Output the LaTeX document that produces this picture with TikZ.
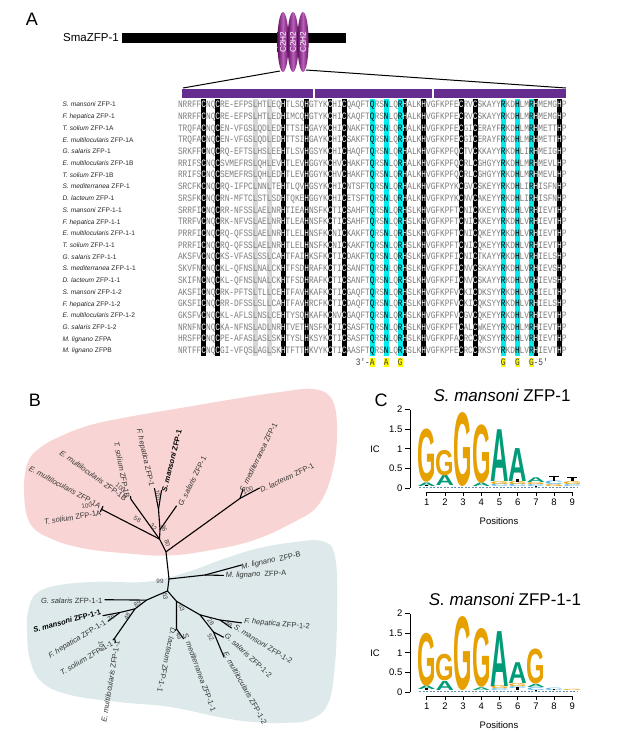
\documentclass[tikz,border=0pt]{standalone}
\usepackage{fontspec}
\setmainfont{Liberation Sans}
\newfontfamily\seqfont{Liberation Mono}
\usepackage{graphicx}
\usepackage{xstring}
\definecolor{zpurple}{RGB}{102,45,145}
\definecolor{zpdark}{RGB}{95,15,95}
\definecolor{zpmid}{RGB}{185,95,185}
\definecolor{seqgrey}{RGB}{125,125,125}
\definecolor{cg}{RGB}{125,125,125}
\definecolor{cw}{RGB}{255,255,255}
\definecolor{ck}{RGB}{0,0,0}
\definecolor{colgrey}{RGB}{215,215,215}
\definecolor{colcyan}{RGB}{0,235,235}
\definecolor{pinkblob}{RGB}{249,212,212}
\definecolor{blueblob}{RGB}{221,233,235}
\definecolor{logoorange}{RGB}{230,160,0}
\definecolor{logoteal}{RGB}{0,155,120}
\definecolor{logoblue}{RGB}{90,180,230}
\definecolor{dashblue}{RGB}{100,140,170}
\definecolor{yhl}{RGB}{255,250,0}
\tikzset{
 seqtxt/.style={anchor=base west, inner sep=0pt, outer sep=0pt, yscale=1.25, font=\seqfont\fontsize{7.8}{8}\selectfont},
 nametxt/.style={anchor=base west, inner sep=0pt, font=\fontsize{6.6}{7}\selectfont, text=black!85},
 treelab/.style={inner sep=0pt, font=\fontsize{7.5}{8}\selectfont, text=black!80},
 bootlab/.style={inner sep=0pt, font=\fontsize{6.3}{7}\selectfont, text=black!75},
 branch/.style={line width=1.1pt, line cap=round, line join=round},
 panellab/.style={inner sep=0pt, font=\fontsize{18}{20}\selectfont},
 axtxt/.style={inner sep=0pt, font=\fontsize{9.5}{11}\selectfont},
 titletxt/.style={inner sep=0pt, font=\fontsize{17}{19}\selectfont},
}
\newcommand\spl[2]{{\itshape #1} #2}
\newcommand\splb[2]{\textbf{\textit{#1} #2}}
\def\cw{4.6808}
\def\sx{178}
\def\ry{104.5}
\def\rs{11.714}
\def\seqrows{0/NRRFFCNQCRE-EFPSLHTLEQHTLSQHGTYKCHICQAQFTQRSNLQRHALKHVGFKPFECRVCSKAYYRKDHLMRHMEMGHP,
1/NRRFFCNQCRE-EFPSLHTLEDHIMCQHGTYKCHICKAQFTQRSNLQRHALKHVGFKPFECRVCSKAYYRKDHLMRHMEMGHP,
2/TRQFACNQCEN-VFGSLQDLEDHTTSIHGAYKCHICNAKFTQRSNLQRHALKHVGFKPFECGICERAYFRKDHLMRHMETTHP,
3/TRQFACNQCEN-VFGSLQDLEDHTTSIHGAYKCHICSAKFTQRSNLQRHALKHVGFKPFECGICERAYFRKDHLMRHMETTHP,
4/SRKFFCNQCRQ-EFTSLHSLEEHTLSVHGSYKCHICHAQFTQRSNLQRHALKHVGFKPFQCTVCKKAYYRKDHLIRHMEIGHP,
5/RRIFSCNQCSVMEFRSLQHLEVHTLEVHGGYKCHVCHAKFTQRSNLQRHALKHVGFKPFQCRLCGHGYYRKDHLMRHMEVLHP,
6/RRIFSCNQCSEMEFRSLQHLEDHTLEVHGGYKCHVCHAKFTQRSNLQRHALKHVGFKPFQCRLCGHGYYRKDHLMRHMEVLHP,
7/SRCFKCNQCRQ-IFPCLNNLTEHTLQVHGSYKCHICNTSFTQRSNLQRHALKHVGFKPYKCGVCSKEYYRKDHLIRHISFNHP,
8/SRSFKCNQCRN-MFTCLSTLSDHTQKEHGGYKCHICETSFTQRSNLQRHALKHVGFKPYKCNVCAKEYYRKDHLIRHISFNHP,
9/SRRFICNQCRR-NFSSLAELNRHTIEAHNSFKCTICSAHFTQRSNLQRHSLKHVGFKPFTCNICKKEYYRKDHLVRHIEVTHP,
10/TRRFVCNQCRK-NFVSLAELNRHTLEAHNSFKCTICSAHFTQRSNLQRHSLKHVGFKPFTCNICKKEYYRKDHLVRHIEVTHP,
11/PRRFICNQCRQ-QFSSLAELNRHTLELHNSFKCNICKAKFTQRSNLQRHSLKHVGFKPFTCNICQKEYYRKDHLVRHIEVTHP,
12/PRRFICNQCRQ-QFSSLAELNRHTLELHNSFKCNICKAKFTQRSNLQRHSLKHVGFKPFTCNICQKEYYRKDHLVRHIEVTHP,
13/AKSFVCNQCKS-VFASLSSLCAHTFAIHKSFKCTICDAKFTQRSNLQRHSLKHVGFKPFICNICTKAYYRKDHLVRHIELSHP,
14/SKVFNCNQCKL-QFNSLNALCKHTFSDHRAFKCTICSANFTQRSNLQRHSLKHVGFKPFICNVCSKAYYRKDHLVRHIEVSHP,
15/SKIFNCNQCKL-QFNSLNALCKHTFSDHRAFKCTICSANFTQRSNLQRHSLKHVGFKPFICNVCSKAYYRKDHLVRHIEVSHP,
16/AKSFICNQCRK-PFTSLTLLCEHTFAVHKAFKCTICGAQFTQRSNLQRHSLKHVGFKPFVCKICDKSYYRKDHLVRHIELTHP,
17/GKSFICNQCRR-DFSSLSLLCAHTFAVHRCFKCTICDAQFTQRSNLQRHSLKHVGFKPFVCKICQKSYYRKDHLVRHIELSHP,
18/GKSFVCNQCKL-AFLSLNSLCEHTYSQHKAFKCNVCGAQFTQRSNLQRHSLKHVGFKPFVCGVCQKEYYRKDHLVRHIEVTHP,
19/NRNFNCNQCKA-NFNSLADLNRHTVETHNSFKCTICSASFTQRSNLQRHSLKHVGFKPFTCALCWKEYYRKDHLMRHIEVTHP,
20/HRSFPCNQCPE-AFASLASLSKHTYSLHKSYKCTICSASFTQRSNLQRHSLKHVGFKPFACRCCQKSYYRKDHLVRHIEVTHP,
21/NRTFFCNQCGI-VFQSLAGLSKHTFTTHKVYKCTICAASFTQRSNLQRHSLKHVGFKPFECRCCRKSYYRKDHLVRHIEVTHP}
\def\namerows{0/S. mansoni/ZFP-1, 1/F. hepatica/ZFP-1, 2/T. solium/ZFP-1A, 3/E. multilocularis/ZFP-1A,
4/G. salaris/ZFP-1, 5/E. multilocularis/ZFP-1B, 6/T. solium/ZFP-1B, 7/S. mediterranea/ZFP-1,
8/D. lacteum/ZFP-1, 9/S. mansoni/ZFP-1-1, 10/F. hepatica/ZFP-1-1, 11/E. multilocularis/ZFP-1-1,
12/T. solium/ZFP-1-1, 13/G. salaris/ZFP-1-1, 14/S. mediterranea/ZFP-1-1, 15/D. lacteum/ZFP-1-1,
16/S. mansoni/ZFP-1-2, 17/F. hepatica/ZFP-1-2, 18/E. multilocularis/ZFP-1-2, 19/G. salaris/ZFP-1-2,
20/M. lignano/ZFPA, 21/M. lignano/ZFPB}
\def\blackcols{5,8,22,27,32,35,48,52,60,63,76,81}
\def\cyancols{41,44,47,69,72,75}
\def\greycols{16,19}
\def\segspec{g/1/5,w/6/6,g/7/8,w/9/9,g/10/22,w/23/23,g/24/27,w/28/28,g/29/32,w/33/33,g/34/35,w/36/36,g/37/41,k/42/42,g/43/44,k/45/45,g/46/47,k/48/48,w/49/49,g/50/52,w/53/53,g/54/60,w/61/61,g/62/63,w/64/64,g/65/69,k/70/70,g/71/72,k/73/73,g/74/75,k/76/76,w/77/77,g/78/81,w/82/82,g/83/83}
\def\coltop{98.8}
\def\colbot{356.4}
% logo helpers
\def\lgz{488}
\def\lgu{39.2}
\newcommand\logoL[5]{%
  \pgfmathsetmacro\lgx{426.7+18.2*(#3-1)}%
  \pgfmathsetmacro\lgy{\lgz-\lgu*(#4)}%
  \pgfmathsetmacro\lgh{\lgu*((#5)-(#4))}%
  \node[anchor=south,inner sep=0pt,outer sep=0pt,text=#2] at (\lgx,\lgy) {\resizebox{18.5pt}{\lgh pt}{\bfseries #1}};%
}
\newcommand\logoErr[4]{% col, low, high, line top (or -1)
  \pgfmathsetmacro\lgx{426.7+18.2*(#1-1)}%
  \pgfmathsetmacro\lya{\lgz-\lgu*(#2)}%
  \pgfmathsetmacro\lyb{\lgz-\lgu*(#3)}%
  \fill[black] (\lgx-1.3,\lya) rectangle (\lgx+1.3,\lyb);%
  \ifdim #4pt>0pt
    \pgfmathsetmacro\lyc{\lgz-\lgu*(#4)}%
    \draw[black,line width=0.6pt] (\lgx-5,\lyc) -- (\lgx+5,\lyc);%
    \draw[black,line width=0.5pt] (\lgx,\lyc) -- (\lgx,\lyb);%
  \fi
}
\newcommand\logoAxes{%
  \draw[line width=0.7pt] (410,\lgz) -- (410,\lgz-2*\lgu);
  \foreach \v/\t in {0/0,0.5/0.5,1/1,1.5/1.5,2/2} {
    \draw[line width=0.7pt] (405,\lgz-\lgu*\v) -- (410,\lgz-\lgu*\v);
    \node[axtxt,anchor=east] at (402.5,\lgz-\lgu*\v) {\t};
  }
  \node[axtxt] at (375,\lgz-\lgu) {IC};
  \draw[line width=0.7pt] (426.7,\lgz+4) -- (572.3,\lgz+4);
  \foreach \k in {1,...,9} {
    \draw[line width=0.7pt] ({426.7+18.2*(\k-1)},\lgz+4) -- ({426.7+18.2*(\k-1)},\lgz+8);
    \node[axtxt] at ({426.7+18.2*(\k-1)},\lgz+14) {\k};
  }
  \node[axtxt] at (499,\lgz+33) {Positions};
  \draw[dashblue,line width=0.7pt,dash pattern=on 2pt off 1.5pt] (419,\lgz-0.8) -- (578,\lgz-0.8);
}
\begin{document}
\begin{tikzpicture}[x=1pt,y=-1pt]
\useasboundingbox (0,0) rectangle (617,732);
\fill[white] (0,0) rectangle (617,732);
%================ Panel A
\node[panellab] (labA) at (32,19) {A};
\node[inner sep=0pt,anchor=east,font=\fontsize{11.5}{13}\selectfont] (smazfp) at (119,38) {SmaZFP-1};
\fill[black] (122,33) rectangle (346,42.5);
\foreach \ex/\en in {283/e1,293/e2,303/e3} {
  \shade[left color=zpdark,right color=zpdark,middle color=zpmid] (\ex,42) ellipse (5.6 and 30);
  \node[inner sep=0pt,rotate=90,text=white,font=\fontsize{8.3}{9}\selectfont] (\en) at (\ex,42) {C2H2};
}
\coordinate (zl1) at (280,71);
\coordinate (zl2) at (306,70);
\coordinate (zb1) at (183,88);
\coordinate (zb2) at (566,88);
\draw[line width=1pt] (zl1) -- (zb1);
\draw[line width=1pt] (zl2) -- (zb2);
\fill[zpurple] (182,89) rectangle (313.3,97.5);
\fill[zpurple] (315,89) rectangle (432.3,97.5);
\fill[zpurple] (434,89) rectangle (566.4,97.5);
% column shading
\foreach \c in \greycols {\fill[colgrey] ({\sx+\cw*\c},\coltop) rectangle ({\sx+\cw*(\c+1)},\colbot);}
\foreach \c in \blackcols {\fill[black] ({\sx+\cw*\c},\coltop) rectangle ({\sx+\cw*(\c+1)},\colbot);}
\foreach \c in \cyancols {\fill[colcyan] ({\sx+\cw*\c},\coltop) rectangle ({\sx+\cw*(\c+1)},\colbot);}
% sequences: one text line per row, residues coloured inline
\foreach \r/\s in \seqrows {
  \pgfmathsetmacro\yb{\ry+\rs*\r+3.2}
  \node[seqtxt] (seq\r) at (\sx,\yb) {\foreach \cl/\a/\b in \segspec {\color{c\cl}\StrMid{\s}{\a}{\b}}};
}
% names
\foreach \r/\g/\z in \namerows {
  \pgfmathsetmacro\yb{\ry+\rs*\r+2.4}
  \node[nametxt] (nm\r) at (62.5,\yb) {{\itshape\g} \z};
}
% DNA triplets
\foreach \c in {41,44,47,69,72,75} {\fill[yhl] ({\sx+\cw*\c},357.5) rectangle ({\sx+\cw*(\c+1)},367);}
\node[seqtxt,text=black!75] (trip1) at ({\sx+\cw*38},365.4) {3'-A\kern9.3616pt A\kern9.3616pt G};
\node[seqtxt,text=black!75] (trip2) at ({\sx+\cw*69},365.4) {G\kern9.3616pt G\kern9.3616pt G-5'};
%================ Panel B
\node[panellab] (labB) at (35,400) {B};
% ---- pink clade
\begin{scope}[shift={(0,65.1)},yscale=0.945]
\fill[pinkblob] plot[smooth cycle,tension=0.65] coordinates {(24,450) (28,420) (40,405) (60,393) (90,381) (130,372) (180,363) (230,354) (280,346) (315,343) (333,356) (337,392) (332,432) (318,466) (293,484) (253,503) (207,514) (167,519) (130,517) (87,512) (53,502) (30,485)};
\coordinate (J0) at (166,515);
\coordinate (K) at (159.5,501.5);
\coordinate (NG) at (160,491.5);
\coordinate (NSM) at (158.5,470);
\coordinate (Ftip) at (154.5,448);
\coordinate (Stip) at (161.5,450);
\coordinate (Gtip) at (176.5,466.5);
\coordinate (N1A) at (101.5,470);
\coordinate (E1A) at (103,467);
\coordinate (T1A) at (100.5,472.5);
\coordinate (N1B) at (131,459.5);
\coordinate (B1t) at (130.5,456.5);
\coordinate (Dn) at (240,458.5);
\coordinate (SMt) at (243,449);
\coordinate (DLt) at (259.5,447.5);
\draw[branch] (J0) -- (K) -- (NG) -- (NSM) -- (Ftip);
\draw[branch] (NSM) -- (Stip);
\draw[branch] (NG) -- (Gtip);
\draw[branch] (K) -- (N1A) -- (E1A);
\draw[branch] (N1A) -- (T1A);
\draw[branch] (K) -- (N1B) -- (B1t);
\draw[branch] (J0) -- (Dn) -- (SMt);
\draw[branch] (Dn) -- (DLt);
\node[treelab,rotate=-28.6] (lE1A) at (65,446.7) {\spl{E. multilocularis}{ZFP-1A}};
\node[treelab,rotate=9.6] (lT1A) at (72.5,478.7) {\spl{T. solium}{ZFP-1A}};
\node[treelab,rotate=-35.9] (lE1B) at (93.3,434.2) {\spl{E. multilocularis}{ZFP-1B}};
\node[treelab,rotate=-78.8] (lT1B) at (122,428.3) {\spl{T. solium}{ZFP-1B}};
\node[treelab,rotate=-77.6] (lF1) at (145,415.5) {\spl{F. hepatica}{ZFP-1}};
\node[treelab,rotate=75.9,text=black] (lS1) at (171.7,418.8) {\splb{S. mansoni}{ZFP-1}};
\node[treelab,rotate=63.3] (lG1) at (192.2,440.5) {\spl{G. salaris}{ZFP-1}};
\node[treelab,rotate=63.7] (lSm1) at (258.3,415) {\spl{S. mediterranea}{ZFP-1}};
\node[treelab,rotate=25.7] (lD1) at (287,436.7) {\spl{D. lacteum}{ZFP-1}};
\node[bootlab,rotate=10] (b1) at (86.7,466.2) {100};
\node[bootlab,rotate=-40] (b2) at (120.5,447) {100};
\node[bootlab,rotate=-80] (b3) at (157.8,455) {100};
\node[bootlab,rotate=20] (b4) at (248,450) {100};
\node[bootlab,rotate=-28] (b5) at (137.3,480.7) {58};
\node[bootlab,rotate=-50] (b6) at (153.3,488.8) {32};
\node[bootlab,rotate=-75] (b7) at (164,489.7) {96};
\node[bootlab,rotate=-75] (b8) at (167.5,506) {80};
\end{scope}
% ---- blue clade
\begin{scope}[shift={(0,145.8)},yscale=0.797]
\fill[blueblob] plot[smooth cycle,tension=0.65] coordinates {(28,585) (36,562) (60,551) (100,547) (147,547) (187,535) (220,520) (255,506) (290,498) (322,496) (335,515) (337,580) (335,650) (328,700) (310,720) (285,724) (253,723) (220,717) (170,704) (120,698) (70,689) (42,673) (30,645) (27,610)};
\coordinate (N99) at (169,543.5);
\coordinate (Mn) at (205,538.5);
\coordinate (MAt) at (223.5,539);
\coordinate (MBt) at (241.5,526);
\coordinate (N53) at (167.5,558.5);
\coordinate (N89) at (146.5,570);
\coordinate (Gs11) at (105,569.5);
\coordinate (N48) at (135,581);
\coordinate (N36) at (120,585.5);
\coordinate (Sm11) at (103,589.5);
\coordinate (Fh11) at (108,596.5);
\coordinate (N100b) at (114.5,618);
\coordinate (Ts11) at (113,620);
\coordinate (Em11) at (115.5,623);
\coordinate (N63) at (176.5,571.5);
\coordinate (N49) at (176.5,606);
\coordinate (Dl11) at (175.5,608);
\coordinate (Smd11) at (183.5,618.5);
\coordinate (N28) at (200,588.5);
\coordinate (N98) at (220,595);
\coordinate (Fh12) at (241.5,598.5);
\coordinate (Sm12) at (231.5,605);
\coordinate (N52) at (213.5,610);
\coordinate (Gs12) at (223.5,616.5);
\coordinate (Em12) at (224,641.5);
\draw[branch] (N99) -- (N53);
\draw[branch] (N99) -- (Mn) -- (MAt);
\draw[branch] (Mn) -- (MBt);
\draw[branch] (N53) -- (N89) -- (Gs11);
\draw[branch] (N89) -- (N48) -- (N36) -- (Sm11);
\draw[branch] (N36) -- (Fh11);
\draw[branch] (N48) -- (N100b) -- (Ts11);
\draw[branch] (N100b) -- (Em11);
\draw[branch] (N53) -- (N63) -- (N49) -- (Dl11);
\draw[branch] (N49) -- (Smd11);
\draw[branch] (N63) -- (N28) -- (N98) -- (Fh12);
\draw[branch] (N98) -- (Sm12);
\draw[branch] (N28) -- (N52) -- (Gs12);
\draw[branch] (N52) -- (Em12);
\node[treelab,rotate=12] (lMB) at (271,520.8) {\spl{M. lignano}{ ZFP-B}};
\node[treelab,rotate=2] (lMA) at (256,538.3) {\spl{M. lignano}{ ZFP-A}};
\node[treelab] (lG11) at (71.7,570.5) {\spl{G. salaris}{ZFP-1-1}};
\node[treelab,rotate=15.3,text=black] (lS11) at (67,596) {\splb{S. mansoni}{ZFP-1-1}};
\node[treelab,rotate=31] (lF11) at (77.5,619.5) {\spl{F. hepatica}{ZFP-1-1}};
\node[treelab,rotate=30] (lT11) at (86.5,642.5) {\spl{T. solium}{ZFP-1-1}};
\node[treelab,rotate=80.6] (lE11) at (110.5,672) {\spl{E. multilocularis}{ZFP-1-1}};
\node[treelab,rotate=-102] (lD11) at (166.7,645) {\spl{D. lacteum}{ZFP-1-1}};
\node[treelab,rotate=-69.9] (lSm11) at (199.5,660.3) {\spl{S. mediterranea}{ZFP-1-1}};
\node[treelab,rotate=-5.2] (lF12) at (277,600.3) {\spl{F. hepatica}{ZFP-1-2}};
\node[treelab,rotate=-31.9] (lS12) at (263.3,625.3) {\spl{S. mansoni}{ZFP-1-2}};
\node[treelab,rotate=-42.9] (lG12) at (248.3,639) {\spl{G. salaris}{ZFP-1-2}};
\node[treelab,rotate=-61] (lE12) at (245,680) {\spl{E. multilocularis}{ZFP-1-2}};
\node[bootlab] (b9) at (160,546) {99};
\node[bootlab,rotate=-80] (b10) at (165.3,565) {53};
\node[bootlab,rotate=30] (b11) at (137.3,575) {89};
\node[bootlab,rotate=30] (b12) at (111,592) {36};
\node[bootlab,rotate=60] (b13) at (127.3,590) {48};
\node[bootlab,rotate=-80] (b14) at (101.5,628) {100};
\node[bootlab,rotate=-70] (b15) at (181.7,580) {63};
\node[bootlab,rotate=-75] (b16) at (179,615) {49};
\node[bootlab,rotate=-50] (b17) at (210.7,597.3) {28};
\node[bootlab,rotate=-50] (b18) at (229,600) {98};
\node[bootlab,rotate=-60] (b19) at (210.7,617.3) {52};
\end{scope}
% trunk joining the two clades
\draw[branch] (J0) -- (N99);
%================ Panel C
\node[panellab] (labC) at (381,400) {C};
% logo 1
\def\lgz{488}
\node[titletxt] (t1) at (502,395) {\spl{S. mansoni}{ZFP-1}};
\logoAxes
\logoL{A}{logoteal}{1}{0.05}{0.14}
\logoL{G}{logoorange}{1}{0.14}{1.48}
\logoL{A}{logoteal}{2}{0.06}{0.32}
\logoL{G}{logoorange}{2}{0.32}{0.96}
\logoL{G}{logoorange}{3}{0.04}{1.9}
\logoL{A}{logoteal}{4}{0.04}{0.13}
\logoL{G}{logoorange}{4}{0.13}{1.6}
\logoL{C}{logoblue}{5}{0.03}{0.09}
\logoL{G}{logoorange}{5}{0.09}{0.16}
\logoL{A}{logoteal}{5}{0.16}{1.48}
\logoL{C}{logoblue}{6}{0.03}{0.09}
\logoL{G}{logoorange}{6}{0.09}{0.16}
\logoL{A}{logoteal}{6}{0.16}{1.0}
\logoL{C}{logoblue}{7}{0.03}{0.08}
\logoL{G}{logoorange}{7}{0.08}{0.13}
\logoL{A}{logoteal}{7}{0.13}{0.25}
\logoL{G}{logoorange}{8}{0.03}{0.08}
\logoL{C}{logoblue}{8}{0.08}{0.17}
\logoL{C}{logoblue}{9}{0.03}{0.08}
\logoL{G}{logoorange}{9}{0.08}{0.15}
\logoErr{1}{0.04}{0.07}{-1}
\logoErr{6}{0.16}{0.23}{-1}
\logoErr{7}{0.02}{0.05}{-1}
\logoErr{8}{0.19}{0.27}{0.3}
\logoErr{9}{0.18}{0.25}{0.28}
% logo 2
\def\lgz{692}
\node[titletxt] (t2) at (505,599) {\spl{S. mansoni}{ZFP-1-1}};
\logoAxes
\logoL{A}{logoteal}{1}{0.06}{0.15}
\logoL{G}{logoorange}{1}{0.15}{1.48}
\logoL{A}{logoteal}{2}{0.05}{0.28}
\logoL{G}{logoorange}{2}{0.28}{0.95}
\logoL{G}{logoorange}{3}{0.04}{1.9}
\logoL{A}{logoteal}{4}{0.05}{0.12}
\logoL{G}{logoorange}{4}{0.12}{1.6}
\logoL{C}{logoblue}{5}{0.03}{0.08}
\logoL{G}{logoorange}{5}{0.08}{0.15}
\logoL{A}{logoteal}{5}{0.15}{1.55}
\logoL{C}{logoblue}{6}{0.1}{0.15}
\logoL{G}{logoorange}{6}{0.15}{0.22}
\logoL{A}{logoteal}{6}{0.22}{0.75}
\logoL{C}{logoblue}{7}{0.05}{0.12}
\logoL{A}{logoteal}{7}{0.12}{0.2}
\logoL{G}{logoorange}{7}{0.2}{1.08}
\logoL{C}{logoblue}{8}{0.05}{0.11}
\logoL{G}{logoorange}{9}{0.04}{0.07}
\logoErr{1}{0.05}{0.09}{-1}
\logoErr{6}{0.05}{0.13}{-1}
\logoErr{7}{0.02}{0.06}{-1}
\logoErr{8}{0.05}{0.08}{-1}
\end{tikzpicture}
\end{document}
